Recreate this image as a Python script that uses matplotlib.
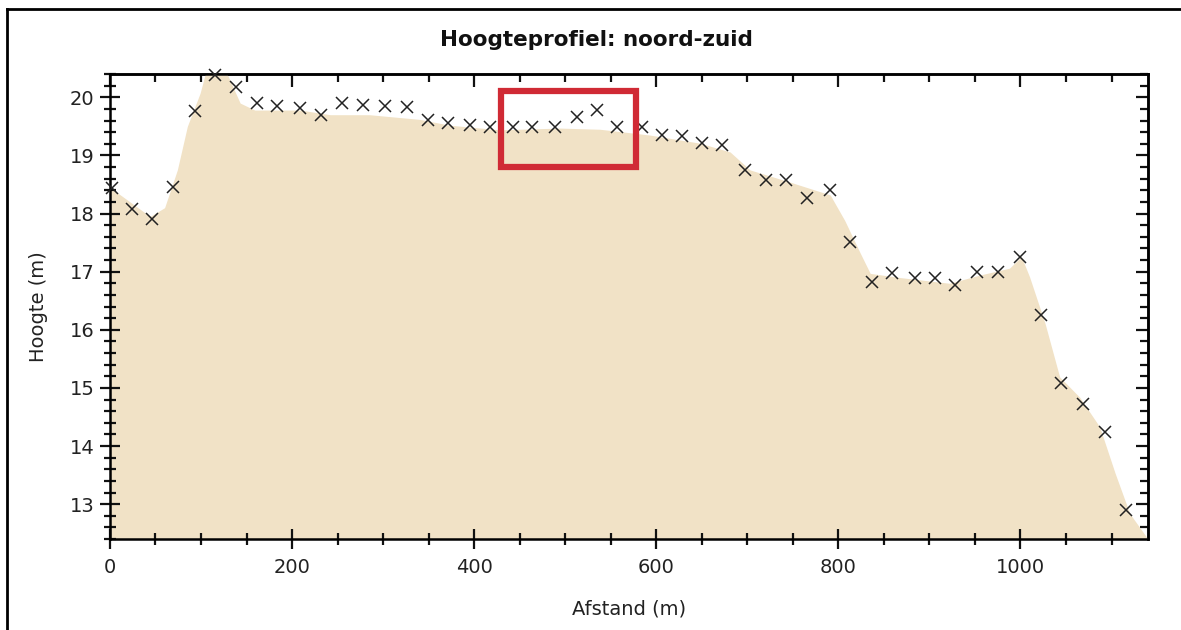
import matplotlib.pyplot as plt
from matplotlib.lines import Line2D
from matplotlib.patches import Rectangle
from matplotlib.ticker import MultipleLocator

# measured points (afstand in m, hoogte in m)
afstand = [2, 24, 46, 69, 93, 115, 138, 161, 183, 209, 232, 255, 278, 302,
           326, 349, 371, 395, 417, 443, 464, 489, 513, 535, 557, 584, 606,
           628, 650, 672, 697, 721, 743, 766, 791, 813, 837, 859, 884, 906,
           928, 952, 975, 999, 1023, 1045, 1069, 1093, 1116]
hoogte = [18.44, 18.08, 17.91, 18.46, 19.76, 20.38, 20.18, 19.90, 19.85, 19.82,
          19.70, 19.90, 19.87, 19.85, 19.83, 19.61, 19.56, 19.52, 19.49, 19.49,
          19.49, 19.49, 19.66, 19.78, 19.49, 19.49, 19.35, 19.33, 19.21, 19.18,
          18.75, 18.58, 18.58, 18.27, 18.40, 17.51, 16.82, 16.98, 16.89, 16.89,
          16.77, 16.99, 16.99, 17.25, 16.25, 15.08, 14.72, 14.24, 12.90]

# terrain profile (filled area)
terrein_x = [0, 22, 44, 60, 74, 85, 99, 108, 123, 143, 159, 209, 242, 285,
             340, 373, 428, 494, 538, 593, 648, 681, 703, 747, 791, 807, 824,
             835, 867, 922, 955, 988, 1001, 1010, 1027, 1043, 1065, 1087, 1104,
             1120, 1140]
terrein_y = [18.45, 18.2, 17.95, 18.1, 18.75, 19.5, 20.07, 20.6, 20.6, 19.9,
             19.78, 19.78, 19.7, 19.7, 19.62, 19.52, 19.44, 19.47, 19.45, 19.35,
             19.21, 19.06, 18.75, 18.54, 18.32, 17.88, 17.32, 16.97, 16.9, 16.8,
             16.94, 17.06, 17.26, 16.91, 16.11, 15.19, 14.84, 14.33, 13.53,
             12.84, 12.4]

# highlighted section
kader_x = (430, 578)
kader_y = (18.8, 20.11)

plt.rcParams['font.family'] = ['DejaVu Sans']

fig = plt.figure(figsize=(11.81, 6.3), dpi=100)
ax = fig.add_axes([0.0931, 0.1444, 0.8789, 0.7381])

ax.fill_between(terrein_x, terrein_y, 12.0, color='#f1e2c6', lw=0)
ax.plot(afstand, hoogte, ls='none', marker='x', ms=9, mew=1.1, color='#222222',
        clip_on=False, zorder=3)

ax.add_patch(Rectangle((kader_x[0], kader_y[0]), kader_x[1] - kader_x[0],
                       kader_y[1] - kader_y[0], fill=False, ec='#d02a35',
                       lw=4.5, zorder=4))

ax.set_xlim(0, 1140)
ax.set_ylim(12.4, 20.4)
ax.xaxis.set_major_locator(MultipleLocator(200))
ax.xaxis.set_minor_locator(MultipleLocator(50))
ax.yaxis.set_major_locator(MultipleLocator(1))
ax.yaxis.set_minor_locator(MultipleLocator(0.2))

ax.tick_params(which='both', labelsize=14, width=1.6,
               color='#111111', labelcolor='#222222')
ax.tick_params(which='major', direction='inout', length=15)
ax.tick_params(which='minor', direction='inout', length=8)
ax.tick_params(axis='x', which='major', pad=6)
for s in ax.spines.values():
    s.set_linewidth(1.8)

# top and right: ticks pointing inwards only
top = ax.secondary_xaxis('top')
top.xaxis.set_major_locator(MultipleLocator(200))
top.xaxis.set_minor_locator(MultipleLocator(50))
right = ax.secondary_yaxis('right')
right.yaxis.set_major_locator(MultipleLocator(1))
right.yaxis.set_minor_locator(MultipleLocator(0.2))
for sec in (top, right):
    sec.tick_params(which='both', direction='in', width=1.6, color='#111111',
                    labeltop=False, labelright=False)
    sec.tick_params(which='major', length=9)
    sec.tick_params(which='minor', length=6)
    for s in sec.spines.values():
        s.set_linewidth(1.8)

ax.set_xlabel('Afstand (m)', fontsize=14, color='#222222')
ax.set_ylabel('Hoogte (m)', fontsize=14, color='#222222')
ax.xaxis.set_label_coords(0.5, -0.13)
ax.yaxis.set_label_coords(-0.06, 0.5)

fig.text(0.505, 0.937, 'Hoogteprofiel: noord-zuid', ha='center', va='center',
         fontsize=15.5, fontweight='bold', color='#111111')

# outer frame (left and top only visible)
fig.add_artist(Line2D([0.006, 0.006], [0, 0.986], color='black', lw=2))
fig.add_artist(Line2D([0.006, 1], [0.986, 0.986], color='black', lw=2))

fig.savefig('out.png', dpi=100)
